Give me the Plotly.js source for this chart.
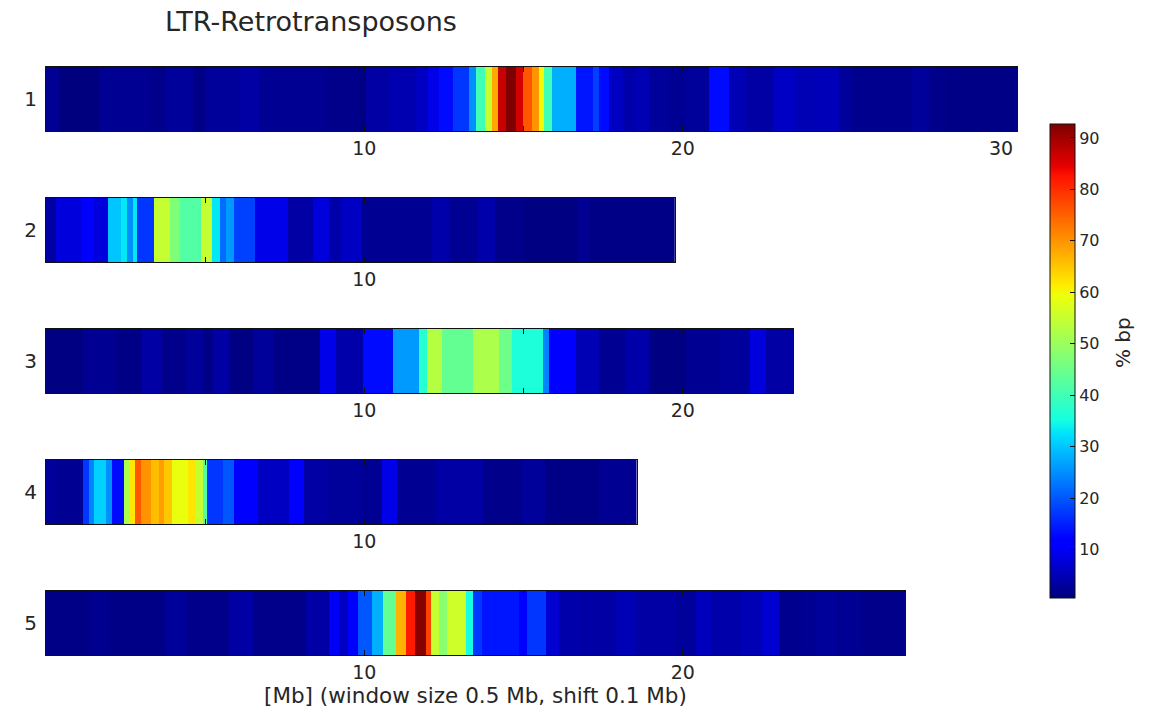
<!DOCTYPE html>
<html>
<head>
<meta charset="utf-8">
<script src="https://cdn.plot.ly/plotly-3.0.1.min.js"></script>
<style>
  html, body { margin: 0; padding: 0; background: #ffffff; }
  #chart { width: 1163px; height: 712px; }
</style>
</head>
<body>
<div id="chart"></div>
<script>
// LTR-retrotransposon coverage (% bp) along the five chromosomes.
// Each chromosome: window boundaries in Mb and the coverage of each stretch.
const chromNames = ['1', '2', '3', '4', '5'];
const chromLengths = [30.5, 19.75, 23.47, 18.55, 26.98];

const chr1Edges = [0, 0.42, 1.68, 3.25, 3.77, 4.61, 5.03, 6.08, 6.7, 8.8, 9.84, 10.05, 10.8, 11.62, 12.0,
  12.35, 12.77, 13.3, 13.5, 13.8, 14.0, 14.2, 14.45, 14.77, 14.97, 15.27, 15.5, 15.65, 15.9, 16.65, 17.17,
  17.38, 17.69, 18.11, 18.53, 18.95, 19.58, 20.1, 20.83, 21.46, 21.98, 22.82, 23.55, 24.08, 24.91, 25.33,
  27.2, 27.74, 28.26, 30.5];
const chr1Pct = [2.2, 0.6, 2.2, 1.5, 2.8, 1.2, 2.8, 3.5, 2.2, 1.5, 0.9, 3.5, 4.5, 6,
  9, 13, 17, 25, 40, 55, 68, 87, 92.7, 86, 76, 70, 60, 40, 28, 14,
  18, 13, 6, 4.1, 4.8, 2.8, 2.2, 2.8, 13, 4.8, 3.5, 6.1, 4.8, 5.2, 2.8,
  1.8, 2.8, 1.5, 1.2];

const chr2Edges = [0, 0.32, 1.1, 1.5, 1.95, 2.35, 2.55, 2.73, 2.86, 3.38, 3.9, 4.22, 4.87, 5.2, 5.45, 5.65,
  5.9, 6.56, 7.6, 8.38, 8.9, 9.29, 9.94, 12.14, 12.66, 13.57, 14.09, 15.0, 16.7, 17.08, 19.75];
const chr2Pct = [3.5, 8, 11, 8, 30, 33, 25, 33, 17, 55, 47, 42, 55, 33, 22,
  26, 18, 9, 3.5, 8, 4.1, 6.1, 2.2, 4.1, 2.2, 4.1, 1.5, 0.9, 2.2, 1.2];

const chr3Edges = [0, 1.15, 2.2, 3.0, 3.65, 4.4, 4.92, 5.23, 5.76, 6.5, 7.12, 8.6, 9.12, 9.95, 10.9, 11.73,
  11.98, 12.45, 13.4, 14.24, 14.65, 15.6, 15.8, 16.65, 17.38, 18.23, 18.95, 20.1, 21.15, 22.1, 22.62, 23.47];
const chr3Pct = [0.9, 2.2, 1.2, 3.5, 1.5, 2.8, 1.2, 3.5, 0.9, 2.8, 1.2, 9, 4.1, 13, 26,
  37, 53, 44, 52, 45, 36, 24, 11, 4.8, 2.2, 4.1, 0.9, 2.2, 2.8, 8, 3.5];

const chr4Edges = [0, 0.3, 1.16, 1.34, 1.52, 1.9, 2.07, 2.44, 2.62, 2.8, 2.99, 3.3, 3.54, 3.72, 3.96, 4.45,
  4.7, 4.94, 5.06, 5.55, 5.91, 6.65, 7.62, 8.1, 8.84, 9.94, 10.55, 11.04, 12.26, 13.72, 14.94, 15.67,
  17.38, 18.55];
const chr4Pct = [2.8, 2.2, 17, 24, 31, 25, 13, 52, 62, 76, 70, 66, 69, 65, 59,
  62, 55, 42, 17, 20, 11, 6, 11, 3.5, 2.8, 2.2, 9, 2.2, 3.5, 1.5, 2.8,
  1.2, 2.2];

const chr5Edges = [0, 1.37, 2.0, 3.78, 4.4, 5.76, 6.5, 8.17, 8.9, 9.2, 9.5, 9.8, 10.25, 10.6, 11.0, 11.3,
  11.6, 11.95, 12.1, 12.35, 12.6, 13.2, 13.4, 13.7, 14.87, 15.1, 15.7, 16.12, 16.75, 17.9, 18.54, 19.8,
  20.42, 20.93, 21.87, 22.5, 23.03, 23.75, 24.2, 24.82, 25.63, 26.98];
const chr5Pct = [1.2, 1.8, 1.2, 2.8, 1.5, 3.5, 1.5, 3.5, 10, 6, 11, 20, 28, 44, 67,
  82, 92, 78, 55, 48, 56, 35, 17, 14, 12, 17, 7, 4.1, 3.5, 4.8, 3.5,
  2.8, 5.4, 4.1, 4.8, 7, 1.8, 2.2, 2.8, 2.2, 1.5];

const chromEdges = [chr1Edges, chr2Edges, chr3Edges, chr4Edges, chr5Edges];
const chromPct = [chr1Pct, chr2Pct, chr3Pct, chr4Pct, chr5Pct];

// Axis ticks every 5 Mb, labelled every 10 Mb
const mbTicks = [5, 10, 15, 20, 25, 30];
const mbTickText = ['', '10', '', '20', '', '30'];

// Colour range of the scale bar
const pctMin = 0.6;
const pctMax = 92.7;
const pctTicks = [10, 20, 30, 40, 50, 60, 70, 80, 90];

// matplotlib "jet"
const jet = [
  [0.0, 'rgb(0,0,127)'], [0.11, 'rgb(0,0,255)'], [0.125, 'rgb(0,0,255)'],
  [0.34, 'rgb(0,219,255)'], [0.35, 'rgb(0,230,247)'], [0.375, 'rgb(21,255,226)'],
  [0.64, 'rgb(239,255,8)'], [0.65, 'rgb(247,245,0)'], [0.66, 'rgb(255,236,0)'],
  [0.89, 'rgb(255,19,0)'], [0.91, 'rgb(232,0,0)'], [1.0, 'rgb(127,0,0)']
];

const FONT = 'DejaVu Sans, Liberation Sans, sans-serif';
const TXT = '#262626';

// Panel geometry: plot area is 971 x 588 px
const plotW = 971, plotH = 588;
const stripH = 64, stripPitch = 131;

const traces = [];
const layout = {
  width: 1163,
  height: 712,
  margin: { l: 46, r: 146, t: 67, b: 57 },
  paper_bgcolor: '#ffffff',
  plot_bgcolor: '#ffffff',
  font: { family: FONT, color: TXT, size: 16 },
  showlegend: false,
  coloraxis: {
    cmin: pctMin,
    cmax: pctMax,
    colorscale: jet,
    colorbar: {
      x: (1050 - 46) / plotW,
      xanchor: 'left',
      xpad: 0,
      y: (655 - 361) / plotH,
      yanchor: 'middle',
      ypad: 0,
      len: 474,
      lenmode: 'pixels',
      thickness: 25,
      thicknessmode: 'pixels',
      outlinewidth: 1,
      outlinecolor: '#111',
      ticks: 'inside',
      ticklen: 5,
      tickcolor: '#111',
      tickvals: pctTicks,
      tickfont: { family: FONT, size: 16, color: TXT },
      title: { text: '' }
    }
  },
  annotations: [
    {
      text: 'LTR-Retrotransposons',
      xref: 'paper', yref: 'paper',
      x: (163 - 46) / plotW, xanchor: 'left',
      y: 1 + (67 - 21) / plotH, yanchor: 'middle',
      showarrow: false,
      font: { family: FONT, size: 27, color: TXT }
    },
    {
      text: '% bp',
      xref: 'paper', yref: 'paper',
      x: (1123 - 46) / plotW, xanchor: 'center',
      y: (655 - 343) / plotH, yanchor: 'middle',
      textangle: -90,
      showarrow: false,
      font: { family: FONT, size: 20, color: TXT }
    }
  ]
};

chromNames.forEach((name, k) => {
  const sfx = k === 0 ? '' : String(k + 1);
  const len = chromLengths[k];
  const topPx = k * stripPitch;
  const y1 = 1 - topPx / plotH;
  const y0 = 1 - (topPx + stripH) / plotH;

  traces.push({
    type: 'heatmap',
    x: chromEdges[k],
    y: [0],
    z: [chromPct[k]],
    coloraxis: 'coloraxis',
    xaxis: 'x' + sfx,
    yaxis: 'y' + sfx,
    zsmooth: false,
    hovertemplate: 'chr ' + name + '<br>%{x:.1f} Mb<br>%{z:.1f} % bp<extra></extra>'
  });

  const keep = mbTicks.map((t, i) => i).filter(i => mbTicks[i] <= len);
  layout['xaxis' + sfx] = {
    domain: [0, len / chromLengths[0]],
    range: [0, len],
    anchor: 'y' + sfx,
    tickvals: keep.map(i => mbTicks[i]),
    ticktext: keep.map(i => mbTickText[i]),
    ticks: 'inside',
    ticklen: 5,
    tickcolor: '#111',
    showline: true,
    linecolor: '#111',
    linewidth: 1,
    mirror: 'ticks',
    showgrid: false,
    zeroline: false,
    tickfont: { family: FONT, size: 19, color: TXT }
  };
  layout['yaxis' + sfx] = {
    domain: [Math.max(0, y0), Math.min(1, y1)],
    range: [-0.5, 0.5],
    anchor: 'x' + sfx,
    tickvals: [0],
    ticktext: [name],
    ticks: '',
    ticklabelstandoff: 4,
    showline: true,
    linecolor: '#111',
    linewidth: 1,
    mirror: true,
    showgrid: false,
    zeroline: false,
    fixedrange: true,
    tickfont: { family: FONT, size: 20, color: TXT }
  };
});

layout.xaxis5.title = {
  text: '[Mb] (window size 0.5 Mb, shift 0.1 Mb)',
  font: { family: FONT, size: 21.5, color: TXT },
  standoff: 6
};

Plotly.newPlot('chart', traces, layout, { displayModeBar: false, staticPlot: true });
</script>
</body>
</html>
